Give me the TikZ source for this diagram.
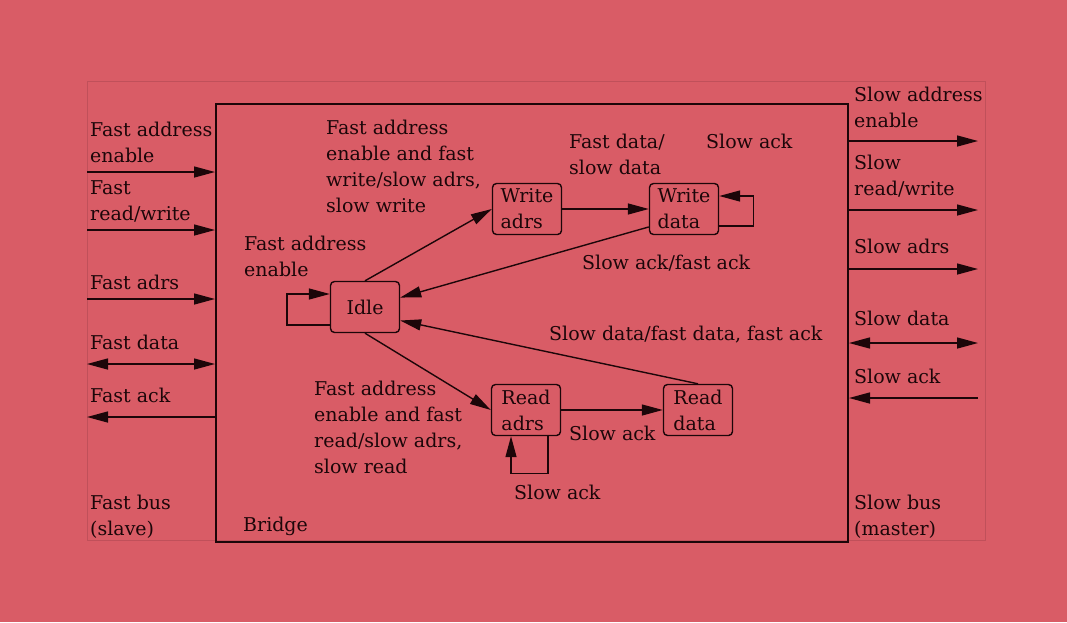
\documentclass[tikz,border=0pt]{standalone}
\usepackage{fontspec}
\setmainfont{DejaVu Serif}
\usetikzlibrary{positioning, arrows.meta}

\definecolor{bgred}{RGB}{217,92,102}
\definecolor{ink}{RGB}{28,6,9}
\definecolor{frameline}{RGB}{192,80,90}

\begin{document}
\begin{tikzpicture}[
        x=1pt, y=-1pt,
        font=\fontsize{19}{26}\selectfont,
        state/.style={
            rectangle,
            draw=ink,
            text=ink,
            rounded corners=4pt,
            line width=1.4pt,
            align=left,
            minimum width=69pt,
            minimum height=51pt,
            inner sep=2pt
        },
        lbl/.style={
            anchor=west,
            align=left,
            text=ink,
            inner sep=0pt
        },
        sig/.style={-{Triangle[length=21pt,width=11pt]}, line width=1.4pt, draw=ink},
        sigboth/.style={{Triangle[length=21pt,width=11pt]}-{Triangle[length=21pt,width=11pt]}, line width=1.4pt, draw=ink}
        ]

        % Canvas
        \fill[bgred] (0,0) rectangle (1067,622);
        \useasboundingbox (0,0) rectangle (1067,622);

        % Bus frame and bridge
        \node[draw=frameline, line width=1pt, minimum width=898pt, minimum height=459pt, inner sep=0pt] (buses) at (536,310.5) {};
        \node[draw=ink, line width=2pt, minimum width=632pt, minimum height=438pt, inner sep=0pt] (bridge) at (532,323) {};
        \node[lbl] (bridgelbl) at (243,526) {Bridge};

        % Fast bus side
        \node[lbl] (fasten) at (90,142) {Fast address\\enable};
        \node[lbl] (fastrw) at (90,201) {Fast\\read/write};
        \node[lbl] (fastadrs) at (90,282) {Fast adrs};
        \node[lbl] (fastdata) at (90,342) {Fast data};
        \node[lbl] (fastack) at (90,395) {Fast ack};
        \node[lbl] (fastbus) at (90,517) {Fast bus\\(slave)};

        \coordinate (fastenin) at (87,172);
        \coordinate (fastrwin) at (87,230);
        \coordinate (fastadrsin) at (87,299);
        \coordinate (fastdatain) at (87,364);
        \coordinate (fastackout) at (87,417);

        \draw[sig] (fastenin) -- (fastenin -| bridge.west);
        \draw[sig] (fastrwin) -- (fastrwin -| bridge.west);
        \draw[sig] (fastadrsin) -- (fastadrsin -| bridge.west);
        \draw[sigboth] (fastdatain) -- (fastdatain -| bridge.west);
        \draw[sig] (fastackout -| bridge.west) -- (fastackout);

        % Slow bus side
        \node[lbl] (slowen) at (854,107) {Slow address\\enable};
        \node[lbl] (slowrw) at (854,176) {Slow\\read/write};
        \node[lbl] (slowadrs) at (854,246) {Slow adrs};
        \node[lbl] (slowdata) at (854,318) {Slow data};
        \node[lbl] (slowack) at (854,376) {Slow ack};
        \node[lbl] (slowbus) at (854,517) {Slow bus\\(master)};

        \coordinate (slowenout) at (978,141);
        \coordinate (slowrwout) at (978,210);
        \coordinate (slowadrsout) at (978,269);
        \coordinate (slowdataout) at (978,343);
        \coordinate (slowackin) at (978,398);

        \draw[sig] (slowenout -| bridge.east) -- (slowenout);
        \draw[sig] (slowrwout -| bridge.east) -- (slowrwout);
        \draw[sig] (slowadrsout -| bridge.east) -- (slowadrsout);
        \draw[sigboth] (slowdataout -| bridge.east) -- (slowdataout);
        \draw[sig] (slowackin) -- (slowackin -| bridge.east);

        % States
        \node[state] (idle) at (365,307) {Idle};
        \node[state] (wadrs) at (527,209) {Write\\adrs};
        \node[state] (wdata) at (684,209) {Write\\data};
        \node[state] (radrs) at (526,410) {Read\\adrs};
        \node[state] (rdata) at (698,410) {Read\\data};

        % Write cycle
        \draw[sig] (idle.north) -- (wadrs.west);
        \draw[sig] (wadrs) -- (wdata);
        \draw[sig] ([yshift=-17pt]wdata.east) -- ++(34,0) |- ([yshift=13pt]wdata.east);
        \draw[sig] (wdata.207) -- (idle.15);

        % Read cycle
        \draw[sig] (idle.south) -- (radrs.west);
        \draw[sig] (radrs) -- (rdata);
        \draw[sig] ([xshift=22pt]radrs.south) -- ++(0,37) -| ([xshift=-15pt]radrs.south);
        \draw[sig] (rdata.north) -- (idle.339);

        % Idle loop
        \draw[sig] ([yshift=-18pt]idle.west) -- ++(-43,0) |- ([yshift=13pt]idle.west);

        % Transition labels
        \node[lbl] (wstartlbl) at (326,166.5) {Fast address\\enable and fast\\write/slow adrs,\\slow write};
        \node[lbl] (wdatalbl) at (569,154) {Fast data/\\slow data};
        \node[lbl] (wlooplbl) at (706,141) {Slow ack};
        \node[lbl] (wbacklbl) at (582,263) {Slow ack/fast ack};
        \node[lbl] (idlelbl) at (244,256) {Fast address\\enable};
        \node[lbl] (rstartlbl) at (314,427) {Fast address\\enable and fast\\read/slow adrs,\\slow read};
        \node[lbl] (rdatalbl) at (569,433) {Slow ack};
        \node[lbl] (rlooplbl) at (514,492) {Slow ack};
        \node[lbl] (rbacklbl) at (549,335) {Slow data/fast data, fast ack};

    \end{tikzpicture}
\end{document}
